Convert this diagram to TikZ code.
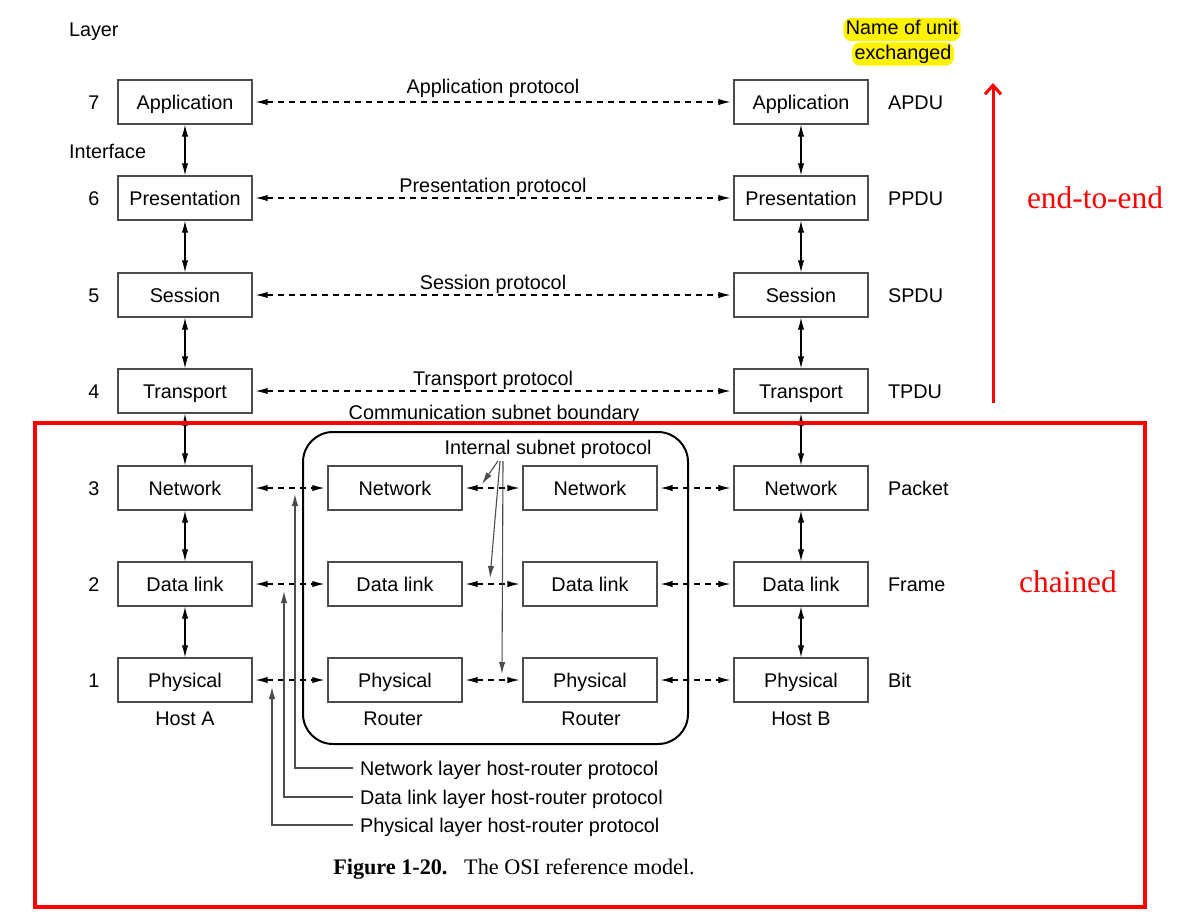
\documentclass[tikz,border=0pt]{standalone}
\usepackage{fontspec}
\setmainfont{Liberation Sans}
\newfontfamily\capfont{Liberation Serif}
\usetikzlibrary{arrows.meta}
\tikzset{
	layerbox/.style={draw=black!70, line width=0.65pt, minimum width=67pt, minimum height=22pt, inner sep=0pt},
	updown/.style={{Latex[length=6pt,width=3.2pt]}-{Latex[length=6pt,width=3.2pt]}, line width=0.55pt},
	peer/.style={{Latex[length=6pt,width=3.2pt]}-{Latex[length=6pt,width=3.2pt]}, line width=0.55pt, dash pattern=on 3pt off 2.5pt, shorten <=1.5pt, shorten >=1.5pt},
	hostrouter/.style={-{Latex[length=6pt,width=3.2pt]}, draw=black!70, line width=0.55pt},
	unitname/.style={anchor=west},
	marker/.style={fill=yellow, rounded corners=4pt, inner sep=1.2pt, text height=7.1pt, text depth=2.1pt},
	redtext/.style={text=red, font=\capfont\fontsize{15.7}{18}\selectfont, text height=10.7pt}
}

\begin{document}
\begin{tikzpicture}[x=0.5pt, y=-0.5pt, font=\fontsize{9.9}{12}\selectfont,
		every node/.append style={text height=7.1pt, text depth=0pt}]
			%%%%% START %%%%%
			\useasboundingbox (0, 0) rectangle (1180, 917);
			
			\node[anchor=west] (layer) at (62, 29) {Layer};
			\node[anchor=west] (iface) at (62, 151) {Interface};
			\node[marker] (unitA) at (902, 29.5) {Name of unit};
			\node[marker] (unitB) at (903, 54) {exchanged};
			
			% layer numbers
			\node (n7) at (94, 102) {7};
			\node (n6) at (94, 198) {6};
			\node (n5) at (94, 295) {5};
			\node (n4) at (94, 391) {4};
			\node (n3) at (94, 488) {3};
			\node (n2) at (94, 584) {2};
			\node (n1) at (94, 680) {1};
			
			% host A
			\node[layerbox] (appA) at (185, 102) {Application};
			\node[layerbox] (preA) at (185, 198) {Presentation};
			\node[layerbox] (sesA) at (185, 295) {Session};
			\node[layerbox] (traA) at (185, 391) {Transport};
			\node[layerbox] (netA) at (185, 488) {Network};
			\node[layerbox] (dlA) at (185, 584) {Data link};
			\node[layerbox] (phyA) at (185, 680) {Physical};
			\node (hostA) at (185, 718) {Host A};
			
			% host B
			\node[layerbox] (appB) at (801, 102) {Application};
			\node[layerbox] (preB) at (801, 198) {Presentation};
			\node[layerbox] (sesB) at (801, 295) {Session};
			\node[layerbox] (traB) at (801, 391) {Transport};
			\node[layerbox] (netB) at (801, 488) {Network};
			\node[layerbox] (dlB) at (801, 584) {Data link};
			\node[layerbox] (phyB) at (801, 680) {Physical};
			\node (hostB) at (801, 718) {Host B};
			
			% routers
			\draw[line width=1pt, rounded corners=15pt] (303, 432) rectangle (688, 744);
			\node[layerbox] (netR) at (395, 488) {Network};
			\node[layerbox] (dlR) at (395, 584) {Data link};
			\node[layerbox] (phyR) at (395, 680) {Physical};
			\node (routerR) at (393, 718) {Router};
			\node[layerbox] (netS) at (590, 488) {Network};
			\node[layerbox] (dlS) at (590, 584) {Data link};
			\node[layerbox] (phyS) at (590, 680) {Physical};
			\node (routerS) at (591, 718) {Router};
			
			% units
			\node[unitname] (apdu) at (881, 102) {APDU};
			\node[unitname] (ppdu) at (881, 198) {PPDU};
			\node[unitname] (spdu) at (881, 295) {SPDU};
			\node[unitname] (tpdu) at (881, 391) {TPDU};
			\node[unitname] (packet) at (881, 488) {Packet};
			\node[unitname] (frame) at (881, 584) {Frame};
			\node[unitname] (bit) at (881, 680) {Bit};
			
			% interfaces
			\draw[updown] (appA) -- (preA);
			\draw[updown] (preA) -- (sesA);
			\draw[updown] (sesA) -- (traA);
			\draw[updown] (traA) -- (netA);
			\draw[updown] (netA) -- (dlA);
			\draw[updown] (dlA) -- (phyA);
			\draw[updown] (appB) -- (preB);
			\draw[updown] (preB) -- (sesB);
			\draw[updown] (sesB) -- (traB);
			\draw[updown] (traB) -- (netB);
			\draw[updown] (netB) -- (dlB);
			\draw[updown] (dlB) -- (phyB);
			
			% peer protocols
			\draw[peer] (appA) -- (appB);
			\draw[peer] (preA) -- (preB);
			\draw[peer] (sesA) -- (sesB);
			\draw[peer] (traA) -- (traB);
			\node (appP) at (493, 86) {Application protocol};
			\node (preP) at (493, 185) {Presentation protocol};
			\node (sesP) at (493, 282) {Session protocol};
			\node (traP) at (493, 378) {Transport protocol};
			\node (boundary) at (494, 412) {Communication subnet boundary};
			
			\draw[peer] (netA) -- (netR);
			\draw[peer] (netR) -- (netS);
			\draw[peer] (netS) -- (netB);
			\draw[peer] (dlA) -- (dlR);
			\draw[peer] (dlR) -- (dlS);
			\draw[peer] (dlS) -- (dlB);
			\draw[peer] (phyA) -- (phyR);
			\draw[peer] (phyR) -- (phyS);
			\draw[peer] (phyS) -- (phyB);
			
			% internal subnet protocol
			\node (isp) at (548, 447) {Internal subnet protocol};
			\coordinate (ispL) at (498, 461);
			\coordinate (ispM) at (500, 461);
			\coordinate (ispR) at (503, 461);
			\coordinate (ispNet) at (482, 484);
			\coordinate (ispDl) at (490, 578);
			\coordinate (ispPhy) at (502, 674);
			\draw[hostrouter] (ispL) -- (ispNet);
			\draw[hostrouter] (ispM) -- (ispDl);
			\draw[hostrouter] (ispR) -- (ispPhy);
			
			% host-router protocols
			\node[anchor=west] (nhr) at (353, 768) {Network layer host-router protocol};
			\node[anchor=west] (dhr) at (353, 797) {Data link layer host-router protocol};
			\node[anchor=west] (phr) at (353, 825) {Physical layer host-router protocol};
			\coordinate (nhrTip) at (295, 494);
			\coordinate (dhrTip) at (284, 591);
			\coordinate (phrTip) at (272, 687);
			\draw[hostrouter] (nhr.west) -| (nhrTip);
			\draw[hostrouter] (dhr.west) -| (dhrTip);
			\draw[hostrouter] (phr.west) -| (phrTip);
			
			\node[font=\capfont\fontsize{11.1}{13}\selectfont] (caption) at (514, 867) {\textbf{Figure 1-20.}\hspace{0.75em}The OSI reference model.};
			
			% red marks
			\draw[red, line width=1.7pt] (35, 423) rectangle (1145, 907);
			\coordinate (eeFoot) at (993, 403);
			\coordinate (eeTip) at (993, 83);
			\draw[red, line width=1.5pt, -{Straight Barb[length=4.5pt,width=8pt]}] (eeFoot) -- (eeTip);
			\node[redtext] (endtoend) at (1095, 198) {end-to-end};
			\node[redtext] (chained) at (1068, 582) {chained};
			
			%%%%% END %%%%%
		\end{tikzpicture}
\end{document}
